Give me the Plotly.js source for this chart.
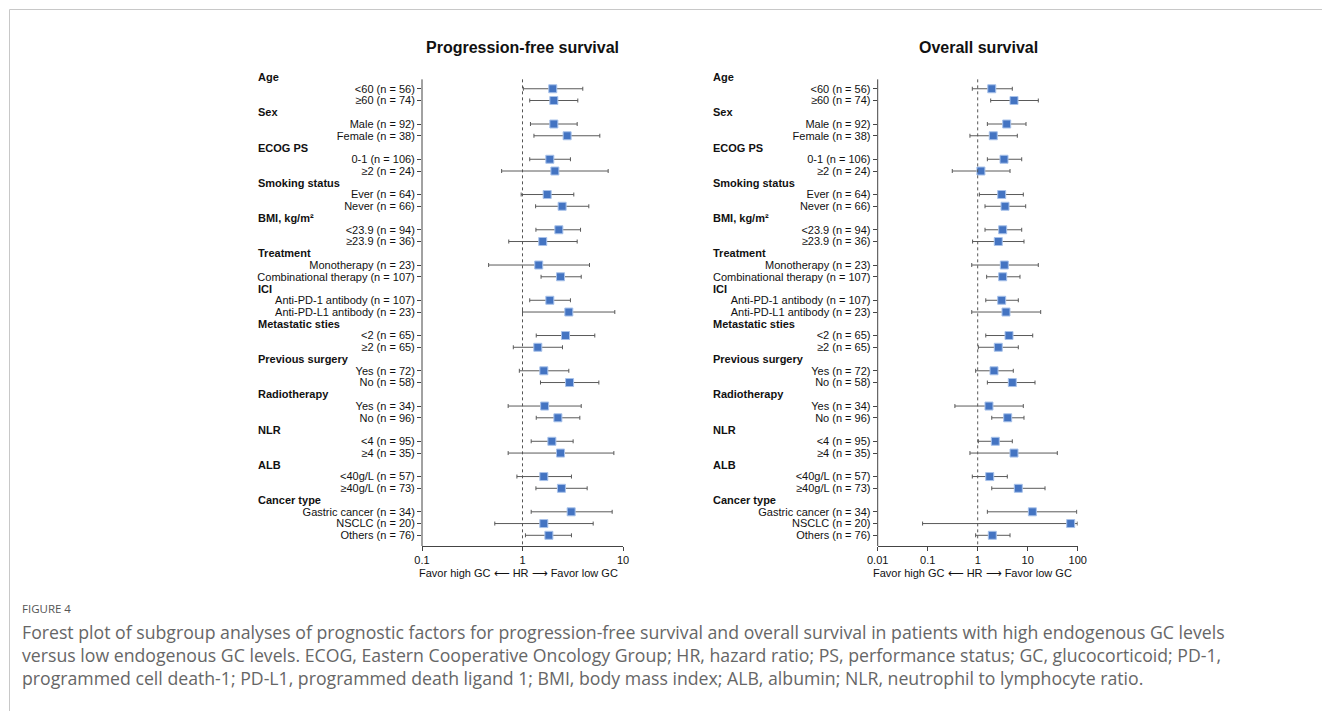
<!DOCTYPE html>
<html>
<head>
<meta charset="utf-8">
<script src="https://cdn.plot.ly/plotly-3.0.1.min.js"></script>
<style>html,body{margin:0;padding:0;background:#fff;}#chart{width:1322px;height:711px;}</style>
</head>
<body>
<div id="chart"></div>
<script>
// ---- Data ----
const groups = ["Age", "Sex", "ECOG PS", "Smoking status", "BMI, kg/m²", "Treatment", "ICI",
  "Metastatic sties", "Previous surgery", "Radiotherapy", "NLR", "ALB", "Cancer type"];
const groupSizes = [2, 2, 2, 2, 2, 2, 2, 2, 2, 2, 2, 2, 3];
const subgroups = [
  "<60 (n = 56)", "≥60 (n = 74)",
  "Male (n = 92)", "Female (n = 38)",
  "0-1 (n = 106)", "≥2 (n = 24)",
  "Ever (n = 64)", "Never (n = 66)",
  "<23.9 (n = 94)", "≥23.9 (n = 36)",
  "Monotherapy (n = 23)", "Combinational therapy (n = 107)",
  "Anti-PD-1 antibody (n = 107)", "Anti-PD-L1 antibody (n = 23)",
  "<2 (n = 65)", "≥2 (n = 65)",
  "Yes (n = 72)", "No (n = 58)",
  "Yes (n = 34)", "No (n = 96)",
  "<4 (n = 95)", "≥4 (n = 35)",
  "<40g/L (n = 57)", "≥40g/L (n = 73)",
  "Gastric cancer (n = 34)", "NSCLC (n = 20)", "Others (n = 76)"
];
// Progression-free survival hazard ratios with 95% CI
const pfsHR   = [2.00, 2.05, 2.05, 2.78, 1.87, 2.10, 1.76, 2.48, 2.30, 1.59, 1.45, 2.39, 1.87, 2.89, 2.68, 1.42, 1.63, 2.94, 1.66, 2.25, 1.96, 2.39, 1.63, 2.44, 3.05, 1.63, 1.83];
const pfsLow  = [1.02, 1.18, 1.20, 1.30, 1.18, 0.62, 0.97, 1.35, 1.36, 0.73, 0.46, 1.53, 1.18, 1.00, 1.37, 0.81, 0.93, 1.51, 0.72, 1.37, 1.22, 0.72, 0.88, 1.36, 1.22, 0.53, 1.07];
const pfsHigh = [3.98, 3.55, 3.50, 5.88, 3.00, 7.12, 3.24, 4.57, 3.78, 3.50, 4.64, 3.84, 3.00, 8.29, 5.24, 2.50, 2.89, 5.75, 3.84, 3.72, 3.19, 8.11, 3.07, 4.40, 7.80, 5.05, 3.07];
// Overall survival hazard ratios with 95% CI
const osHR    = [1.91, 5.32, 3.80, 2.05, 3.36, 1.16, 3.02, 3.52, 3.16, 2.58, 3.41, 3.16, 3.02, 3.68, 4.23, 2.58, 2.12, 4.92, 1.68, 3.98, 2.25, 5.32, 1.74, 6.49, 12.4, 72.4, 1.96];
const osLow   = [0.78, 1.82, 1.56, 0.70, 1.56, 0.31, 1.08, 1.40, 1.40, 0.79, 0.76, 1.51, 1.45, 0.76, 1.45, 1.03, 0.91, 1.56, 0.35, 1.91, 1.03, 0.70, 0.78, 1.91, 1.56, 0.079, 0.91];
const osHigh  = [4.92, 16.3, 9.25, 6.20, 7.59, 4.43, 8.17, 9.12, 7.59, 8.43, 16.3, 7.01, 6.49, 18.2, 12.6, 6.49, 5.15, 14.0, 8.17, 8.43, 4.92, 39.1, 3.91, 22.2, 95.5, 98.2, 4.43];
const pfsTicks = [0.1, 1, 10];
const osTicks = [0.01, 0.1, 1, 10, 100];

// ---- Row layout ----
const headerRows = [];
const itemRows = [];
let r = 0;
groups.forEach((g, i) => {
  headerRows.push(r); r++;
  for (let k = 0; k < groupSizes[i]; k++) { itemRows.push(r); r++; }
});

const W = 1322, H = 711;
const px = v => v / W;
const py = v => 1 - v / H;
const FONT = "Arial, 'Liberation Sans', Helvetica, sans-serif";
// row pitch 11.75 px; row 0 at y=77 px; plot area extended up to include header row 0
const yTopRow = -0.6, yBotRow = 39.91, lineTopRow = 0.2;
const yRange = [yBotRow, yTopRow];
const yDomain = [py(546), py(77 + yTopRow * 11.75)];

function trace(xv, lo, hi, xa, ya) {
  return {
    type: 'scatter', mode: 'markers', x: xv, y: itemRows, xaxis: xa, yaxis: ya,
    marker: {symbol: 'square', size: 8, color: '#4474c2', line: {color: '#a8c2ea', width: 1}},
    error_x: {type: 'data', symmetric: false,
      array: hi.map((h, i) => h - xv[i]), arrayminus: lo.map((l, i) => xv[i] - l),
      color: '#5a5a5a', thickness: 1, width: 2},
    hoverinfo: 'x+y', showlegend: false, cliponaxis: false
  };
}

const data = [
  trace(pfsHR, pfsLow, pfsHigh, 'x', 'y'),
  trace(osHR, osLow, osHigh, 'x2', 'y2')
];

function xAxis(range, domain, anchor, ticks) {
  return {type: 'log', range: range, domain: domain, anchor: anchor,
    tickvals: ticks, ticktext: ticks.map(String), ticks: 'outside', ticklen: 4, tickcolor: '#444',
    showline: true, linecolor: '#444', linewidth: 1, showgrid: false, zeroline: false,
    tickfont: {family: FONT, size: 11, color: '#111'}, fixedrange: true};
}
function yAxis(anchor) {
  return {range: yRange, domain: yDomain, anchor: anchor, tickvals: itemRows, ticktext: subgroups,
    ticks: 'outside', ticklen: 4, tickcolor: '#444', showline: false,
    showgrid: false, zeroline: false, tickfont: {family: FONT, size: 11, color: '#111'}, fixedrange: true};
}

const annotations = [];
groups.forEach((g, i) => {
  annotations.push({text: '<b>' + g + '</b>', x: px(255.5), xref: 'paper', y: headerRows[i], yref: 'y',
    xanchor: 'left', yanchor: 'middle', showarrow: false, font: {family: FONT, size: 11, color: '#111'}});
  annotations.push({text: '<b>' + g + '</b>', x: px(711), xref: 'paper', y: headerRows[i], yref: 'y2',
    xanchor: 'left', yanchor: 'middle', showarrow: false, font: {family: FONT, size: 11, color: '#111'}});
});
annotations.push({text: '<b>Progression-free survival</b>', x: px(522), y: py(48), xref: 'paper', yref: 'paper',
  xanchor: 'center', yanchor: 'middle', showarrow: false, font: {family: FONT, size: 16, color: '#111'}});
annotations.push({text: '<b>Overall survival</b>', x: px(978), y: py(48), xref: 'paper', yref: 'paper',
  xanchor: 'center', yanchor: 'middle', showarrow: false, font: {family: FONT, size: 16, color: '#111'}});
const favor = 'Favor high GC ⟵ HR ⟶ Favor low GC';
annotations.push({text: favor, x: px(518.5), y: py(573), xref: 'paper', yref: 'paper',
  xanchor: 'center', yanchor: 'middle', showarrow: false, font: {family: FONT, size: 11, color: '#111'}});
annotations.push({text: favor, x: px(972), y: py(573), xref: 'paper', yref: 'paper',
  xanchor: 'center', yanchor: 'middle', showarrow: false, font: {family: FONT, size: 11, color: '#111'}});

const CAPFONT = "'Open Sans', 'Noto Sans', sans-serif";
annotations.push({text: 'FIGURE 4', x: px(20), y: py(608), xref: 'paper', yref: 'paper',
  xanchor: 'left', yanchor: 'middle', showarrow: false, font: {family: CAPFONT, size: 11.5, color: '#555'}});
const captionLines = [
  'Forest plot of subgroup analyses of prognostic factors for progression-free survival and overall survival in patients with high endogenous GC levels',
  'versus low endogenous GC levels. ECOG, Eastern Cooperative Oncology Group; HR, hazard ratio; PS, performance status; GC, glucocorticoid; PD-1,',
  'programmed cell death-1; PD-L1, programmed death ligand 1; BMI, body mass index; ALB, albumin; NLR, neutrophil to lymphocyte ratio.'
];
annotations.push({text: captionLines.join('<br>'), x: px(20), y: py(655), xref: 'paper', yref: 'paper',
  xanchor: 'left', yanchor: 'middle', align: 'left', showarrow: false,
  font: {family: CAPFONT, size: 17.7, color: '#666'}});

const shapes = [
  {type: 'line', xref: 'x domain', yref: 'y', x0: 0, x1: 0, y0: lineTopRow, y1: yBotRow, line: {color: '#444', width: 1}},
  {type: 'line', xref: 'x2 domain', yref: 'y2', x0: 0, x1: 0, y0: lineTopRow, y1: yBotRow, line: {color: '#444', width: 1}},
  {type: 'line', xref: 'x', yref: 'y', x0: 1, x1: 1, y0: lineTopRow, y1: yBotRow, line: {color: '#555', width: 1, dash: '3px,3px'}},
  {type: 'line', xref: 'x2', yref: 'y2', x0: 1, x1: 1, y0: lineTopRow, y1: yBotRow, line: {color: '#555', width: 1, dash: '3px,3px'}},
  {type: 'line', xref: 'paper', yref: 'paper', x0: px(9.5), x1: 1, y0: py(9.5), y1: py(9.5), line: {color: '#c8c8c8', width: 1}},
  {type: 'line', xref: 'paper', yref: 'paper', x0: px(9.5), x1: px(9.5), y0: py(9.5), y1: 0, line: {color: '#c8c8c8', width: 1}}
];

const layout = {
  width: W, height: H, margin: {l: 0, r: 0, t: 0, b: 0},
  paper_bgcolor: '#fff', plot_bgcolor: 'rgba(0,0,0,0)', showlegend: false,
  font: {family: FONT, size: 11, color: '#111'},
  xaxis: xAxis([-1, 1], [px(422), px(623)], 'y', pfsTicks),
  yaxis: yAxis('x'),
  xaxis2: xAxis([-2, 2], [px(877.7), px(1077.7)], 'y2', osTicks),
  yaxis2: yAxis('x2'),
  annotations: annotations, shapes: shapes
};

Plotly.newPlot('chart', data, layout, {displayModeBar: false, staticPlot: true});
</script>
</body>
</html>
